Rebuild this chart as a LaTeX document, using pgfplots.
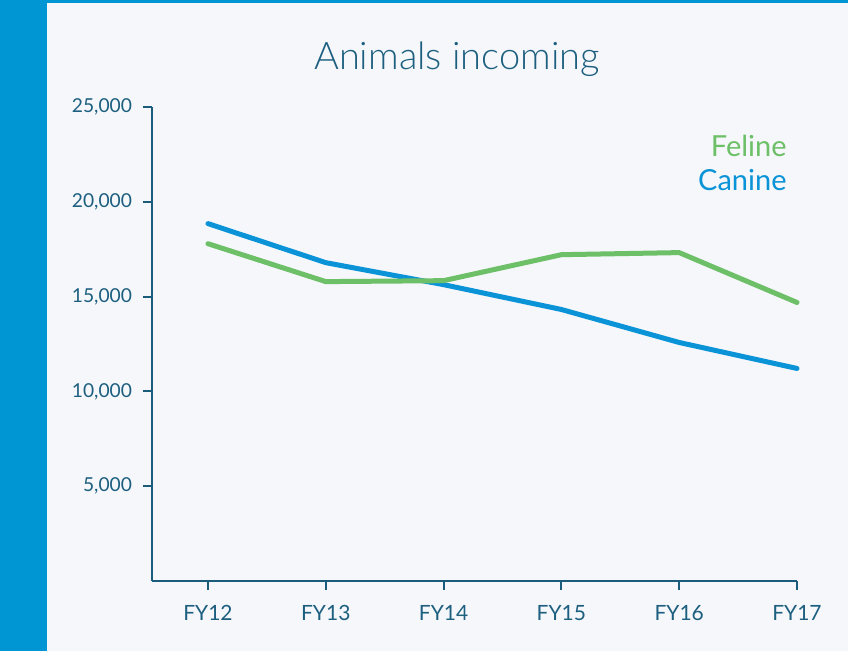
\documentclass[border=0pt]{standalone}
\usepackage{pgfplots}
\pgfplotsset{compat=1.18}
\usepackage{fontspec}
\setmainfont{Lato}
\newfontfamily\lightfont{Lato Light}
\definecolor{bgc}{HTML}{F5F7FB}
\definecolor{band}{HTML}{0095D3}
\definecolor{canine}{HTML}{0A93D6}
\definecolor{feline}{HTML}{6DC067}
\definecolor{txt}{HTML}{1D5F7F}
\definecolor{axc}{HTML}{1B5C7D}
\begin{document}
\begin{tikzpicture}
\fill[bgc] (0,0) rectangle (424pt,-325.5pt);
\fill[band] (0,0) rectangle (23.5pt,-325.5pt);
\fill[band] (0,0) rectangle (424pt,-1.5pt);
\begin{axis}[
  at={(76pt,-290.5pt)}, anchor=south west,
  scale only axis, width=322.5pt, height=237pt,
  xmin=-0.475, xmax=5, ymin=0, ymax=25000,
  axis lines*=left,
  axis line style={axc, line width=1pt},
  every tick/.style={axc, line width=1pt},
  tick align=outside, major tick length=4.5pt,
  xtick={0,1,2,3,4,5},
  xticklabels={FY12,FY13,FY14,FY15,FY16,FY17},
  ytick={5000,10000,15000,20000,25000},
  scaled y ticks=false,
  /pgf/number format/1000 sep={,},
  /pgf/number format/assume math mode=true,
  yticklabel style={font=\fontsize{9.6pt}{11pt}\selectfont, color=txt, xshift=-2pt},
  xticklabel style={font=\fontsize{10.5pt}{12pt}\selectfont, color=txt, yshift=-4pt},
  clip=false,
]
\addplot[canine, line width=2.5pt, line cap=round, line join=round] coordinates {
 (0,18850) (1,16790) (2,15630) (3,14320) (4,12580) (5,11210)};
\addplot[feline, line width=2.5pt, line cap=round, line join=round] coordinates {
 (0,17790) (1,15790) (2,15840) (3,17210) (4,17320) (5,14690)};
\end{axis}
\node[anchor=base, color=txt, font=\lightfont\fontsize{19pt}{22pt}\selectfont] at (228.5pt,-35pt) {Animals incoming};
\node[anchor=base east, inner sep=0pt, color=feline, font=\fontsize{14.5pt}{17pt}\selectfont] at (393.5pt,-78.5pt) {Feline};
\node[anchor=base east, inner sep=0pt, color=canine, font=\fontsize{14.5pt}{17pt}\selectfont] at (393.5pt,-95.5pt) {Canine};
\end{tikzpicture}
\end{document}
